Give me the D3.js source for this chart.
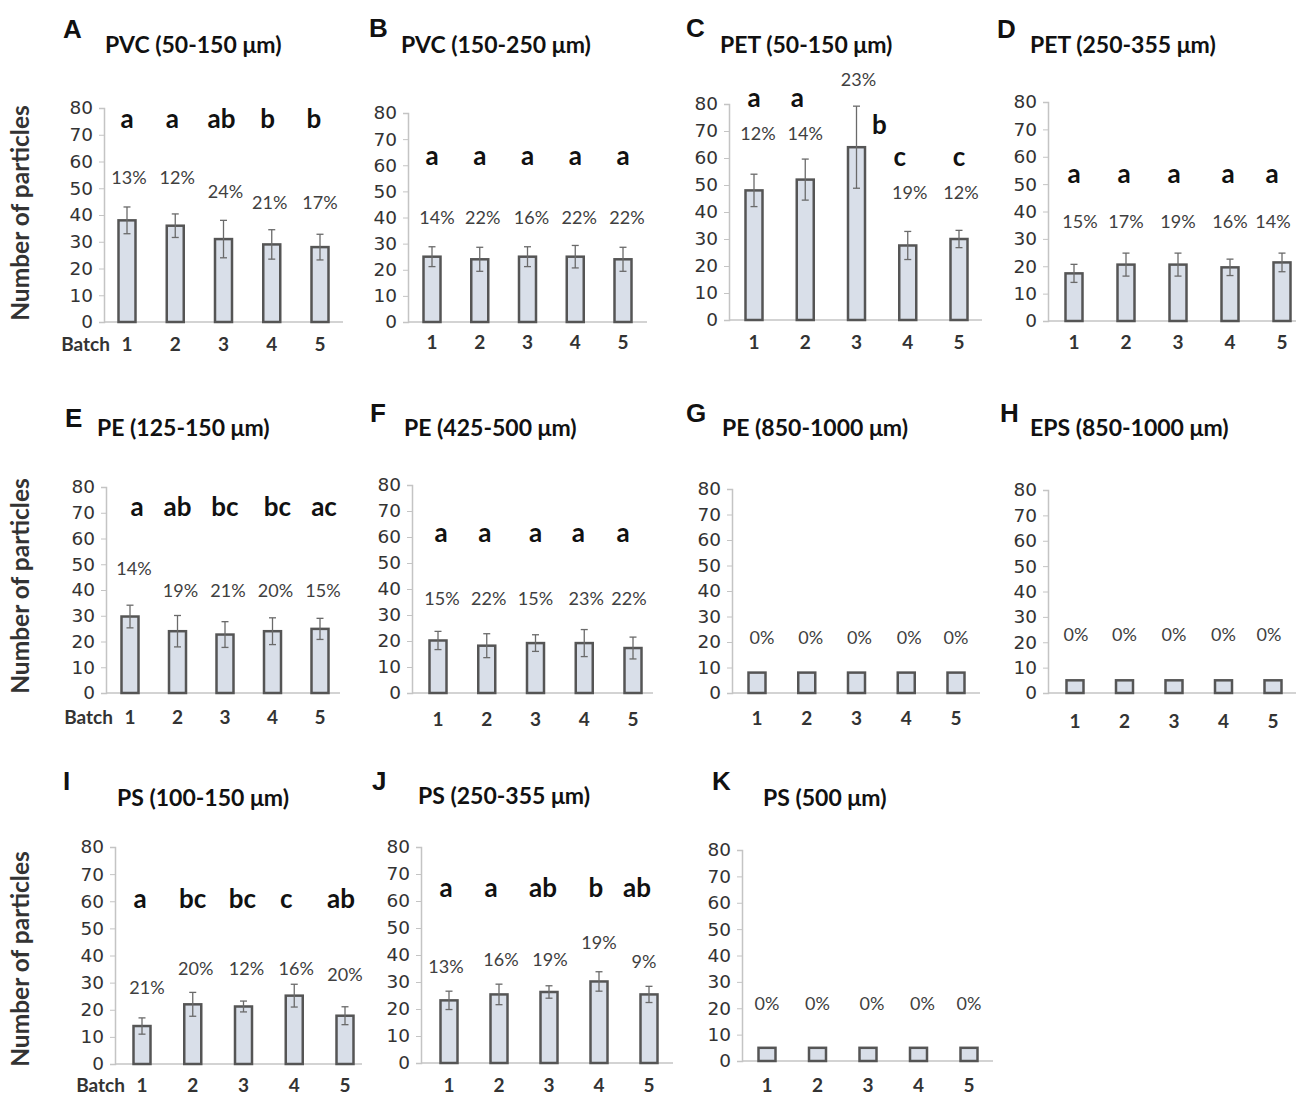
<!DOCTYPE html>
<html><head><meta charset="utf-8">
<script src="https://cdn.jsdelivr.net/npm/d3@7"></script>
<style>body{margin:0;background:#fff}</style>
</head><body>
<svg id="chart" width="1296" height="1098"></svg>
<script>
// ---------- DATA ----------
const batches = [1, 2, 3, 4, 5];
const panelIds = ["A","B","C","D","E","F","G","H","I","J","K"];
const panelTitles = ["PVC (50-150 μm)","PVC (150-250 μm)","PET (50-150 μm)","PET (250-355 μm)",
  "PE (125-150 μm)","PE (425-500 μm)","PE (850-1000 μm)","EPS (850-1000 μm)",
  "PS (100-150 μm)","PS (250-355 μm)","PS (500 μm)"];
const yTicks = [0, 10, 20, 30, 40, 50, 60, 70, 80];
const yAxisTitle = "Number of particles";
const batchLabel = "Batch";
const meanValues = [
  [38, 36, 31, 29, 28],
  [25, 24, 25, 25, 24],
  [48, 52, 64, 27.6, 30],
  [17.4, 20.6, 20.6, 19.6, 21.4],
  [29.7, 24, 22.7, 24, 24.9],
  [20.2, 18.2, 19.2, 19.2, 17.3],
  [8, 8, 8, 8, 8],
  [5, 5, 5, 5, 5],
  [14, 22, 21.2, 25.2, 17.8],
  [23.2, 25.4, 26.3, 30.2, 25.4],
  [5, 5, 5, 5, 5]
];
const errorValues = [
  [5, 4.4, 7, 5.5, 4.8],
  [3.8, 4.6, 3.8, 4.3, 4.6],
  [6, 7.6, 15.2, 5.2, 3.2],
  [3.3, 4.2, 4.2, 3, 3.4],
  [4.4, 6.1, 5, 5.2, 4.1],
  [3.5, 4.6, 3.2, 5.2, 4.2],
  [0, 0, 0, 0, 0],
  [0, 0, 0, 0, 0],
  [3, 4.4, 2, 4.2, 3.3],
  [3.4, 3.8, 2.3, 3.6, 3],
  [0, 0, 0, 0, 0]
];
const cvLabels = [
  ["13%","12%","24%","21%","17%"],
  ["14%","22%","16%","22%","22%"],
  ["12%","14%","23%","19%","12%"],
  ["15%","17%","19%","16%","14%"],
  ["14%","19%","21%","20%","15%"],
  ["15%","22%","15%","23%","22%"],
  ["0%","0%","0%","0%","0%"],
  ["0%","0%","0%","0%","0%"],
  ["21%","20%","12%","16%","20%"],
  ["13%","16%","19%","19%","9%"],
  ["0%","0%","0%","0%","0%"]
];
const groupLetters = [
  ["a","a","ab","b","b"],
  ["a","a","a","a","a"],
  ["a","a","b","c","c"],
  ["a","a","a","a","a"],
  ["a","ab","bc","bc","ac"],
  ["a","a","a","a","a"],
  null, null,
  ["a","bc","bc","c","ab"],
  ["a","a","ab","b","ab"],
  null
];

// ---------- LAYOUT (pixel geometry; label heights in axis units) ----------
const layout = [
  {ax0:104, ax1:343, c1:127, c5:320, y0:322, y80:108, lx:63, ly:38, tx:105, ty:53, letY:[75.5], letDx:[0,-3,-2,-4,-6], pctY:[54,54,48.5,44.5,44.5], pctDx:[2,2,2,-2,0], left:true, yc:213, xl:345},
  {ax0:408, ax1:647, c1:432, c5:623, y0:322, y80:113, lx:369, ly:37, tx:401, ty:53, letY:[63], pctY:[40], pctDx:[5,3,4,4,4], xl:343},
  {ax0:729, ax1:982, c1:754, c5:959, y0:320, y80:104, lx:686, ly:37, tx:720, ty:53, letY:[82,82,72,60,60], letDx:[0,-8,23,-8,0], pctY:[69,69,89,47,47], pctDx:[4,0,2,2,2], xl:343},
  {ax0:1048, ax1:1310, c1:1074, c5:1282, y0:321, y80:102, lx:997, ly:38, tx:1030, ty:53, letY:[53.5], letDx:[0,-2,-4,-2,-10], pctY:[36], pctDx:[6,0,0,0,-9], xl:343},
  {ax0:106, ax1:340, c1:130, c5:320, y0:693, y80:487, lx:65, ly:427, tx:97, ty:436, letY:[72], letDx:[7,0,0,5,4], pctY:[48,39.6,39.6,39.6,39.6], pctDx:[4,3,3,3,3], left:true, yc:586, xl:718},
  {ax0:412, ax1:653, c1:438, c5:633, y0:693, y80:485, lx:370, ly:422, tx:404, ty:436, letY:[61], letDx:[3,-2,0,-6,-10], pctY:[36], pctDx:[4,2,0,2,-4], xl:720},
  {ax0:732, ax1:980, c1:757, c5:956, y0:693, y80:489, lx:686, ly:422, tx:722, ty:436, pctY:[21.6], pctDx:[5,4,3,3,0], xl:719},
  {ax0:1048, ax1:1310, c1:1075, c5:1273, y0:693, y80:490, lx:1000, ly:422, tx:1030, ty:436, pctY:[22.7], pctDx:[1,0,0,0,-4], xl:722},
  {ax0:115, ax1:362, c1:142, c5:345, y0:1064, y80:847, lx:63, ly:790, tx:117, ty:806, letY:[60.5], letDx:[-2,0,-1,-8,-4], pctY:[28,35,35,35,32.8], pctDx:[5,3,3,2,0], left:true, yc:959, xl:1086},
  {ax0:421, ax1:673, c1:449, c5:649, y0:1063, y80:847, lx:372, ly:790, tx:418, ty:804, letY:[64.5], letDx:[-3,-8,-6,-3,-12], pctY:[35.5,38,38,44.4,37.4], pctDx:[-3,2,1,0,-5], xl:1086},
  {ax0:742, ax1:993, c1:767, c5:969, y0:1061, y80:850, lx:712, ly:790, tx:763, ty:806, pctY:[21.6], pctDx:[0,0,4,4,0], xl:1086}
];

const svg = d3.select("#chart");
const BAR_W = 17;

panelIds.forEach((id, i) => {
  const L = layout[i];
  const g = svg.append("g");
  const x = d3.scalePoint().domain(batches).range([L.c1, L.c5]);
  const y = d3.scaleLinear().domain([0, 80]).range([L.y0, L.y80]);

  // panel letter and title
  g.append("text").attr("x", L.lx).attr("y", L.ly).text(id)
    .attr("font-family", "Liberation Sans, Arial, sans-serif").attr("font-weight", "bold")
    .attr("font-size", 26).attr("fill", "#111");
  g.append("text").attr("x", L.tx).attr("y", L.ty).text(panelTitles[i])
    .attr("font-family", "Lato, sans-serif").attr("font-weight", "bold")
    .attr("font-size", 23).attr("fill", "#111");

  // y axis
  const yAxis = d3.axisLeft(y).tickValues(yTicks).tickSize(5).tickPadding(6).tickFormat(d3.format("d"));
  const ya = g.append("g").attr("transform", `translate(${L.ax0},0)`).call(yAxis);
  ya.select(".domain").attr("stroke", "#c4c4c4").attr("stroke-width", 1.5);
  ya.selectAll(".tick line").attr("stroke", "#c4c4c4").attr("stroke-width", 1);
  ya.selectAll(".tick text").attr("font-family", "DejaVu Sans, sans-serif").attr("font-size", 18.5).attr("fill", "#333");

  // x axis line
  g.append("line").attr("x1", L.ax0).attr("x2", L.ax1).attr("y1", y(0)).attr("y2", y(0))
    .attr("stroke", "#c4c4c4").attr("stroke-width", 1.5);
  // x labels
  g.selectAll(".xl").data(batches).enter().append("text")
    .attr("x", d => x(d)).attr("y", L.xl + 6).attr("text-anchor", "middle").text(d => d)
    .attr("font-family", "Lato, sans-serif").attr("font-weight", "bold").attr("font-size", 19).attr("fill", "#333");

  if (L.left) {
    g.append("text").attr("x", x(1) - 17).attr("y", L.xl + 6).attr("text-anchor", "end").text(batchLabel)
      .attr("font-family", "Lato, sans-serif").attr("font-weight", "bold").attr("font-size", 19).attr("fill", "#333");
    g.append("text").attr("transform", `translate(29,${L.yc}) rotate(-90)`).attr("text-anchor", "middle")
      .text(yAxisTitle).attr("font-family", "Lato, sans-serif").attr("font-weight", "bold")
      .attr("font-size", 24.5).attr("fill", "#333");
  }

  const rows = batches.map((b, j) => ({b, m: meanValues[i][j], e: errorValues[i][j], cv: cvLabels[i][j],
    lt: groupLetters[i] ? groupLetters[i][j] : null, j}));

  // bars
  g.selectAll(".bar").data(rows).enter().append("rect")
    .attr("x", d => x(d.b) - BAR_W / 2).attr("width", BAR_W)
    .attr("y", d => y(d.m)).attr("height", d => y(0) - y(d.m))
    .attr("fill", "#d9dfe9").attr("stroke", "#555").attr("stroke-width", 2.5);

  // error bars
  const eb = g.selectAll(".err").data(rows.filter(d => d.e > 0)).enter().append("g").attr("stroke", "#6a6a6a").attr("stroke-width", 1.3);
  eb.append("line").attr("x1", d => x(d.b)).attr("x2", d => x(d.b)).attr("y1", d => y(d.m + d.e)).attr("y2", d => y(d.m - d.e));
  eb.append("line").attr("x1", d => x(d.b) - 3.5).attr("x2", d => x(d.b) + 3.5).attr("y1", d => y(d.m + d.e)).attr("y2", d => y(d.m + d.e));
  eb.append("line").attr("x1", d => x(d.b) - 3.5).attr("x2", d => x(d.b) + 3.5).attr("y1", d => y(d.m - d.e)).attr("y2", d => y(d.m - d.e));

  // percent labels
  g.selectAll(".cv").data(rows).enter().append("text")
    .attr("x", d => x(d.b) + (L.pctDx ? L.pctDx[d.j] : 2))
    .attr("y", d => y(L.pctY.length > 1 ? L.pctY[d.j] : L.pctY[0]) + 6)
    .attr("text-anchor", "middle").text(d => d.cv)
    .attr("font-family", "Lato, sans-serif").attr("font-size", 18).attr("fill", "#404040");

  // group letters
  if (groupLetters[i]) {
    g.selectAll(".lt").data(rows).enter().append("text")
      .attr("x", d => x(d.b) + (L.letDx ? L.letDx[d.j] : 0))
      .attr("y", d => y(L.letY.length > 1 ? L.letY[d.j] : L.letY[0]) + 8)
      .attr("text-anchor", "middle").text(d => d.lt)
      .attr("font-family", "Lato, sans-serif").attr("font-weight", "bold").attr("font-size", 26).attr("fill", "#111");
  }
});
</script>
</body></html>
